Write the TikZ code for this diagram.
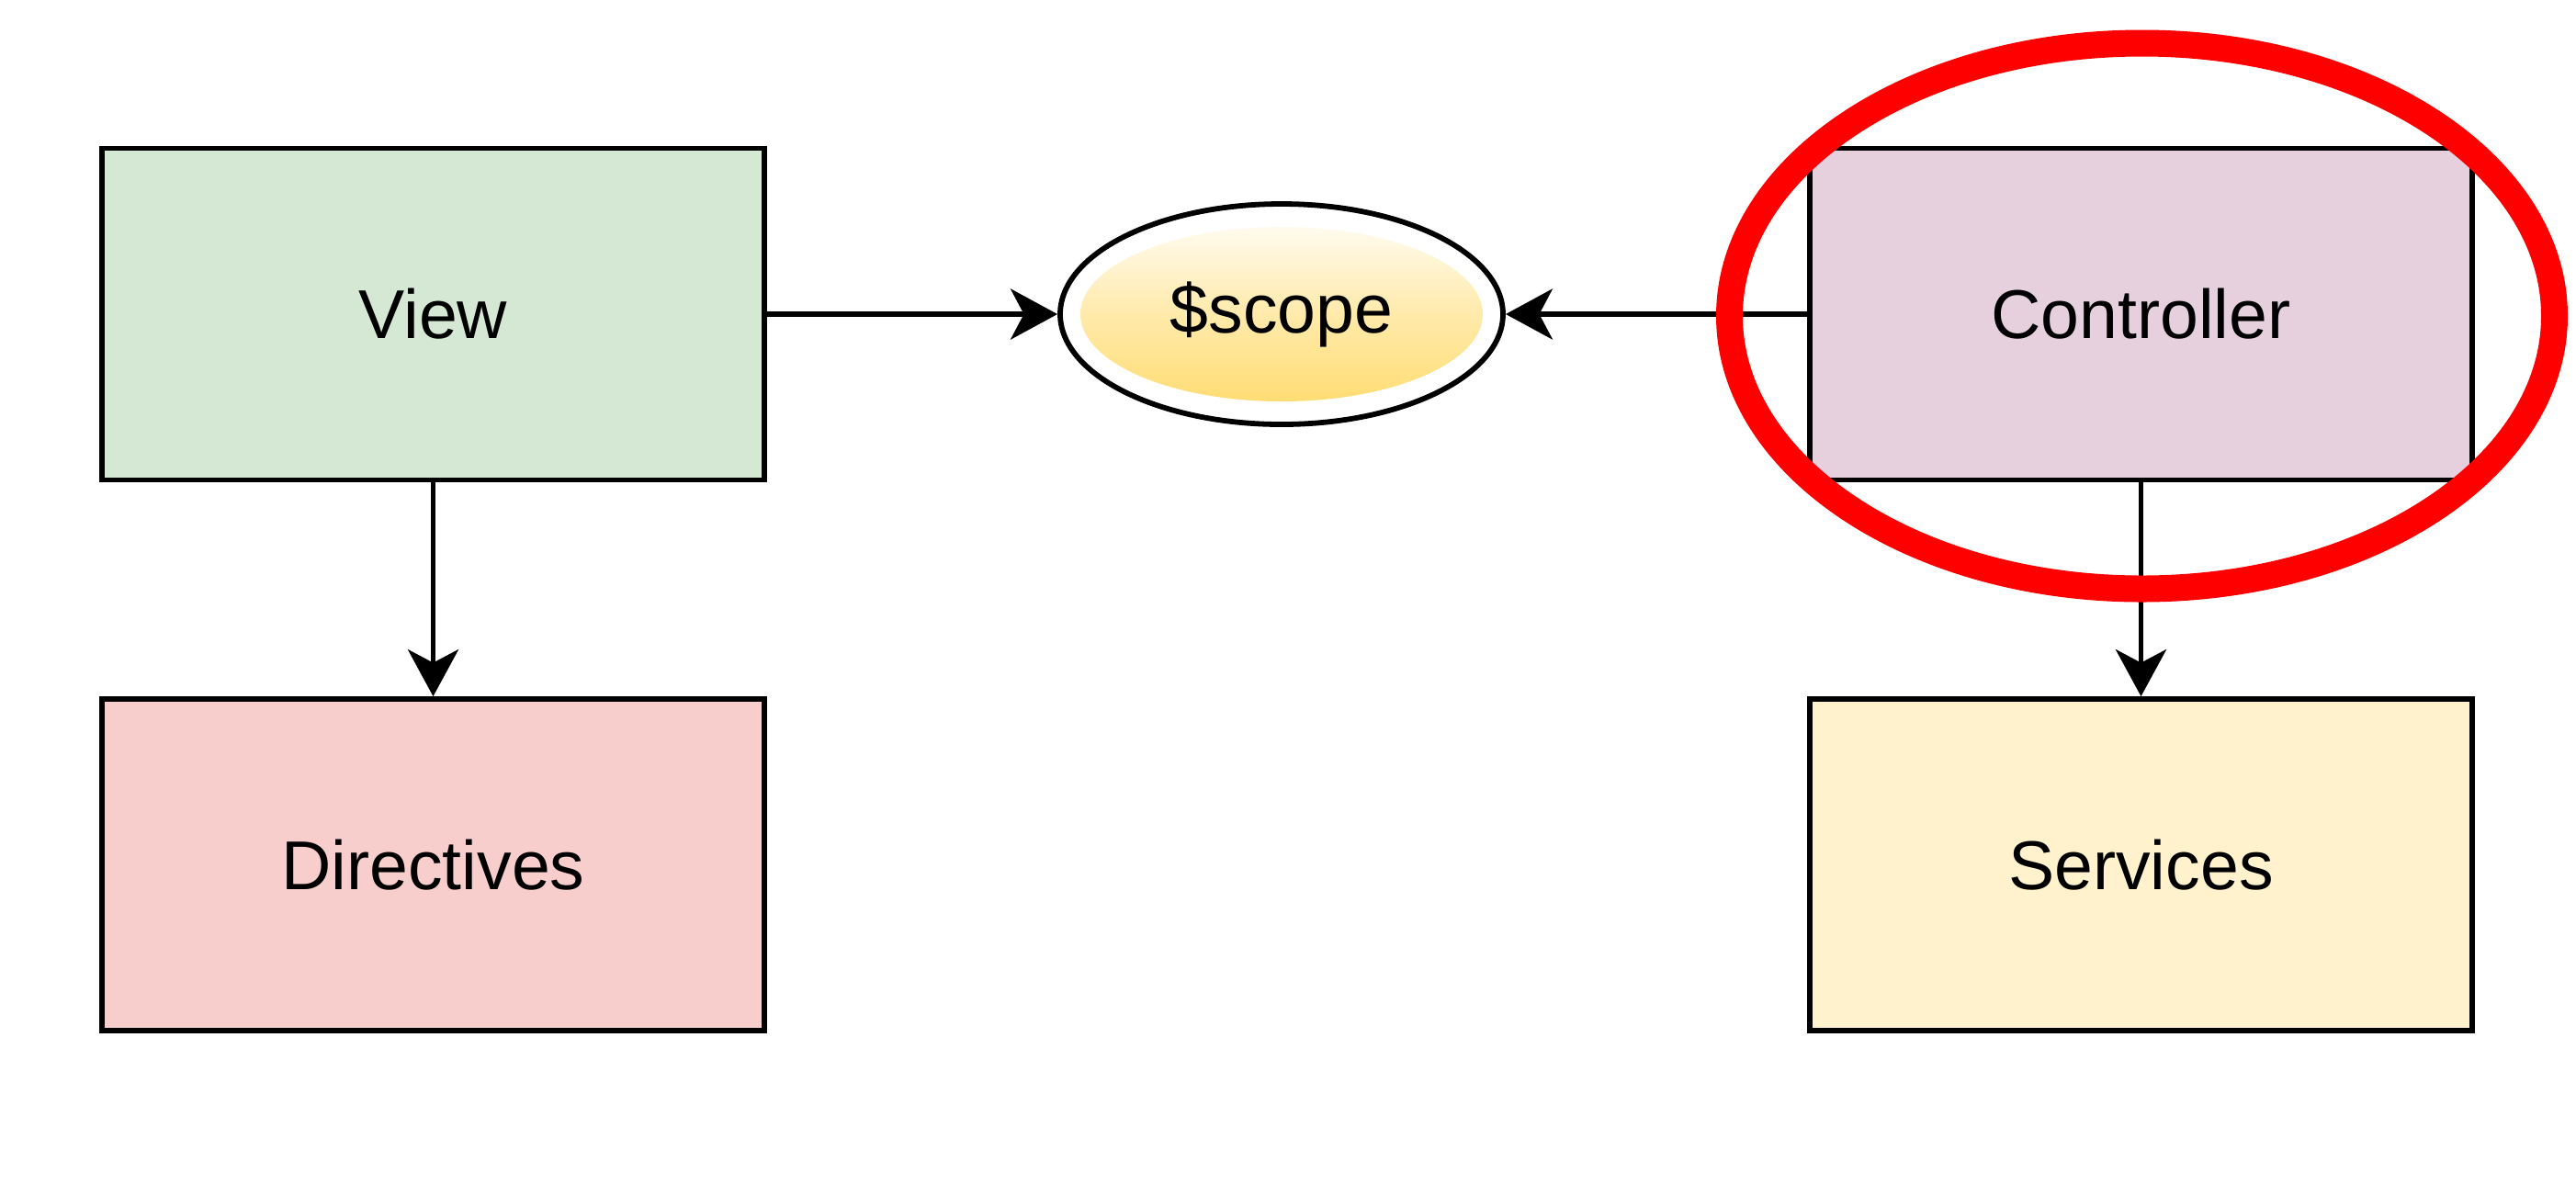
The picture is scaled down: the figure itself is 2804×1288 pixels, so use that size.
\documentclass[tikz,border=0pt]{standalone}
\usepackage{fontspec}
\setmainfont{Liberation Sans}
\usetikzlibrary{shapes.geometric,arrows.meta}
\definecolor{viewfill}{HTML}{D5E8D4}
\definecolor{dirfill}{HTML}{F8CECC}
\definecolor{ctrlfill}{HTML}{E6D0DE}
\definecolor{servfill}{HTML}{FFF2CC}
\definecolor{scopeylw}{HTML}{FFD966}
\definecolor{hlred}{HTML}{FF0000}
\begin{document}
\begin{tikzpicture}[x=0.25pt,y=-0.25pt,
  box/.style={draw=black,line width=1.45pt,minimum width=180.25pt,minimum height=90.25pt,inner sep=0pt,font=\fontsize{18.8pt}{22pt}\selectfont},
  conn/.style={draw=black,line width=1.45pt,-{Stealth[length=12.75pt,width=13.75pt,inset=3.6pt]}},
  scopenode/.style={ellipse,draw=black,line width=1.45pt,fill=white,minimum width=120.5pt,minimum height=60pt,inner sep=0pt,font=\fontsize{18.8pt}{22pt}\selectfont,
    path picture={\shade[top color=white,bottom color=scopeylw,middle color=scopeylw!55!white] (path picture bounding box.center) ellipse [x radius=54.75pt,y radius=23.75pt];}},
  hlstyle/.style={ellipse,draw=hlred,line width=7.25pt,minimum width=224.5pt,minimum height=148.5pt,inner sep=0pt}
]
\useasboundingbox (0,0) rectangle (2804,1288);
\node[box,fill=viewfill] (view) at (471.5,342) {View};
\node[box,fill=dirfill] (dir) at (471.5,941.5) {Directives};
\node[box,fill=ctrlfill] (ctrl) at (2330.5,342) {Controller};
\node[box,fill=servfill] (serv) at (2330.5,941.5) {Services};
\node[scopenode] (scope) at (1395,342) {\$scope};
\draw[conn] (view.east) -- (scope.west);
\draw[conn] (ctrl.west) -- (scope.east);
\draw[conn] (view.south) -- (dir.north);
\draw[conn] (ctrl.south) -- (serv.north);
\node[hlstyle] (hl) at (2331.5,344) {};
\end{tikzpicture}
\end{document}
